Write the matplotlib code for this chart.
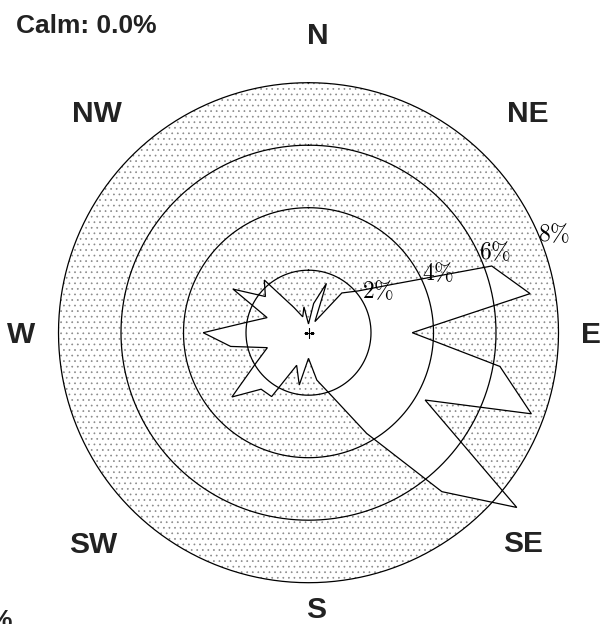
import matplotlib
matplotlib.use('Agg')
import matplotlib.pyplot as plt
import numpy as np

# wind directions (degrees from north, clockwise) and frequency (%)
directions = [0, 10, 20, 30, 40, 50, 60, 70, 80, 90, 100, 110,
              120, 130, 140, 150, 160, 170, 180, 190, 200, 210, 220, 230,
              240, 250, 260, 270, 280, 290, 300, 310, 320, 330, 340, 350]
frequency = [0.28, 0.95, 1.68, 0.41, 1.66, 2.08, 3.09, 6.24, 7.20, 3.32, 6.22, 7.59,
             4.31, 8.70, 6.64, 3.72, 2.14, 1.54, 0.82, 1.70, 1.11, 2.36, 2.36, 3.20,
             1.94, 1.40, 2.53, 3.37, 1.97, 1.41, 2.79, 1.80, 2.20, 0.93, 0.54, 0.84]

rings = [2, 4, 6, 8]
ring_labels = ['$2\\%$', '$4\\%$', '$6\\%$', '$8\\%$']
ring_label_angle = [59.5, 65.4, 66.8, 68.1]
ring_label_r = [2.6, 4.56, 6.51, 8.48]

compass = ['N', 'NE', 'E', 'SE', 'S', 'SW', 'W', 'NW']
calm_text = 'Calm: 0.0%'

plt.rcParams['font.family'] = ['Liberation Sans', 'DejaVu Sans']
plt.rcParams['mathtext.fontset'] = 'cm'
plt.rcParams['hatch.linewidth'] = 0.5

W, H = 608, 624
fig = plt.figure(figsize=(W / 100, H / 100), dpi=100)

# polar axes centred on the rose, radius 250 px = 8 %
cx, cy, rad = 308.5, 332.7, 250
ax = fig.add_axes([(cx - rad) / W, (H - cy - rad) / H, 2 * rad / W, 2 * rad / H],
                  projection='polar')
ax.set_theta_zero_location('N')
ax.set_theta_direction(-1)
ax.set_ylim(0, 8)
ax.grid(False)
ax.set_xticks([])
ax.set_yticks([])
ax.spines['polar'].set_visible(False)
ax.patch.set_alpha(0)

# stippled background disk
t = np.linspace(0, 2 * np.pi, 361)
ax.fill_between(t, 0, 8, facecolor='white', edgecolor='#8a8a8a',
                hatch='...', linewidth=0, zorder=1)

# frequency polygon
theta = np.deg2rad(directions)
ax.fill(theta, frequency, facecolor='white', edgecolor='black',
        linewidth=0.9, zorder=2, clip_on=False)

# rings on top
for r in rings:
    ax.plot(t, np.full_like(t, r), color='black', linewidth=0.9, zorder=3,
            clip_on=False)

ax.plot([0], [0], marker='+', color='black', markersize=7, mew=0.8, zorder=4)

for lab, a, r in zip(ring_labels, ring_label_angle, ring_label_r):
    ax.text(np.deg2rad(a), r, lab, fontsize=17, ha='center', va='center',
            zorder=5)

# compass labels (pixel positions of text, baseline)
label_x = [318, 528, 591, 523, 316, 93, 21, 97]
label_y = [44, 122, 343, 552, 618, 553, 343, 122]
for lab, x, y in zip(compass, label_x, label_y):
    fig.text(x / W, 1 - y / H, lab, fontsize=21.5, fontweight='bold',
             ha='center', va='baseline', color='#222222')

fig.text(16 / W, 1 - 33 / H, calm_text, fontsize=19, fontweight='bold',
         ha='left', va='baseline', color='#222222')
fig.text(12 / W, 1 - 609 / H, '%', fontsize=19, fontweight='bold',
         ha='right', va='top', color='#222222')

fig.savefig('out.png', dpi=100)
